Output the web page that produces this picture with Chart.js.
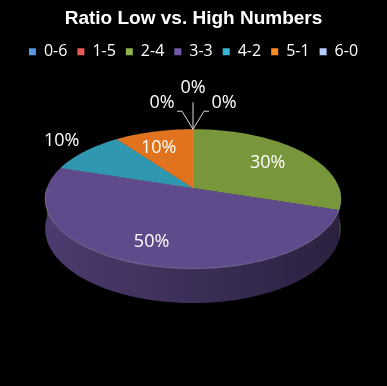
<!DOCTYPE html>
<html>
<head>
<meta charset="utf-8">
<script src="https://cdn.jsdelivr.net/npm/chart.js@4.4.0/dist/chart.umd.min.js"></script>
<style>
  html, body { margin: 0; padding: 0; background: #000; }
  #wrap { width: 387px; height: 386px; }
</style>
</head>
<body>
<div id="wrap"><canvas id="pie" width="387" height="386"></canvas></div>
<script>
// data
const categories = ['0-6', '1-5', '2-4', '3-3', '4-2', '5-1', '6-0'];
const shares = [0, 0, 30, 50, 10, 10, 0];
const sliceColors = ['#4a7ebb', '#be4b48', '#78973a', '#5f4a8b', '#2f98b0', '#e2731e', '#98acd6'];
const chartTitle = 'Ratio Low vs. High Numbers';

// tilted view of the pie (perspective)
const view = { cx: 193, cy: 188, rx: 146, ry: 68, k: 0.157, depth: 29 };
const outsideLabels = ['4-2'];

function proj(a, f, z) {
  const u = Math.cos(a) * f, v = Math.sin(a) * f;
  const d = 1 - view.k * v;
  return [view.cx + view.rx * u / d, view.cy + (view.ry * v + view.depth * z) / d];
}

function shade(hex, m) {
  const n = parseInt(hex.slice(1), 16);
  const r = Math.min(255, Math.round(((n >> 16) & 255) * m));
  const g = Math.min(255, Math.round(((n >> 8) & 255) * m));
  const b = Math.min(255, Math.round((n & 255) * m));
  return 'rgb(' + r + ',' + g + ',' + b + ')';
}

function arcPoints(ctx, a1, a2, f, z, first) {
  const steps = Math.max(2, Math.ceil(Math.abs(a2 - a1) / 0.02));
  for (let i = 0; i <= steps; i++) {
    const p = proj(a1 + (a2 - a1) * i / steps, f, z);
    if (first && i === 0) ctx.moveTo(p[0], p[1]); else ctx.lineTo(p[0], p[1]);
  }
}

const pie3d = {
  id: 'pie3d',
  beforeDatasetsDraw(chart) {
    const ctx = chart.ctx;
    const arcs = chart.getDatasetMeta(0).data;
    ctx.save();
    // outer walls, front half only
    arcs.forEach((arc) => {
      const a1 = Math.max(arc.startAngle, 0);
      const a2 = Math.min(arc.endAngle, Math.PI);
      if (a2 <= a1) return;
      const col = arc.options.backgroundColor;
      const grad = ctx.createLinearGradient(view.cx - view.rx, 0, view.cx + view.rx, 0);
      grad.addColorStop(0, shade(col, 0.8));
      grad.addColorStop(1, shade(col, 0.45));
      ctx.beginPath();
      arcPoints(ctx, a1, a2, 1, 0, true);
      arcPoints(ctx, a2, a1, 1, 1, false);
      ctx.closePath();
      ctx.fillStyle = grad;
      ctx.fill();
    });
    // top faces
    arcs.forEach((arc) => {
      if (arc.endAngle - arc.startAngle <= 0) return;
      const c = proj(0, 0, 0);
      ctx.beginPath();
      ctx.moveTo(c[0], c[1]);
      arcPoints(ctx, arc.startAngle, arc.endAngle, 1, 0, false);
      ctx.closePath();
      ctx.fillStyle = arc.options.backgroundColor;
      ctx.fill();
      ctx.strokeStyle = 'rgba(255,255,255,0.12)';
      ctx.lineWidth = 0.6;
      ctx.stroke();
    });
    // soft rim highlight on the front edge
    ctx.beginPath();
    arcPoints(ctx, 0, Math.PI, 1, 0, true);
    ctx.strokeStyle = 'rgba(255,255,255,0.18)';
    ctx.lineWidth = 1;
    ctx.stroke();
    ctx.restore();
    return false;
  },
  afterDraw(chart) {
    const ctx = chart.ctx;
    const arcs = chart.getDatasetMeta(0).data;
    const total = shares.reduce((s, v) => s + v, 0);
    ctx.save();
    ctx.fillStyle = '#fff';
    ctx.font = '18px "Open Sans"';
    ctx.textAlign = 'center';
    ctx.textBaseline = 'middle';
    const zeros = [];
    arcs.forEach((arc, i) => {
      const txt = Math.round(shares[i] / total * 100) + '%';
      if (shares[i] === 0) { zeros.push({ arc, txt }); return; }
      const mid = (arc.startAngle + arc.endAngle) / 2;
      if (outsideLabels.includes(categories[i])) {
        const p = proj(mid, 1.25, 0);
        ctx.fillText(txt, p[0] + 1, p[1] - 2);
      } else {
        const p = proj(mid, 0.72, 0);
        ctx.fillText(txt, p[0] - 5, p[1] + 2);
      }
    });
    // empty slices: spread labels with leader lines
    ctx.strokeStyle = '#d9d9d9';
    ctx.lineWidth = 1;
    zeros.forEach((z, j) => {
      const side = j - (zeros.length - 1) / 2;
      const p = proj(z.arc.startAngle, 1, 0);
      ctx.beginPath();
      ctx.moveTo(p[0], p[1]);
      if (side === 0) {
        ctx.lineTo(p[0], p[1] - 27);
        ctx.stroke();
        ctx.fillText(z.txt, p[0], p[1] - 41);
      } else {
        ctx.lineTo(p[0] + side * 11, p[1] - 18);
        ctx.lineTo(p[0] + side * 16, p[1] - 18);
        ctx.stroke();
        ctx.fillText(z.txt, p[0] + side * 31, p[1] - 26);
      }
    });
    ctx.restore();
  }
};

new Chart(document.getElementById('pie').getContext('2d'), {
  type: 'pie',
  data: {
    labels: categories,
    datasets: [{
      data: shares,
      backgroundColor: sliceColors,
      borderWidth: 0
    }]
  },
  options: {
    responsive: false,
    animation: false,
    events: [],
    plugins: {
      title: {
        display: true,
        text: chartTitle,
        color: '#fff',
        font: { family: 'Liberation Sans', size: 19, weight: 'bold' },
        padding: { top: 7, bottom: 4 }
      },
      legend: {
        position: 'top',
        labels: {
          color: '#fff',
          boxWidth: 7,
          boxHeight: 7,
          padding: 10,
          font: { family: 'Open Sans', size: 16 },
          generateLabels(chart) {
            return categories.map((c, i) => ({
              text: c,
              fillStyle: shade(sliceColors[i], 1.2),
              strokeStyle: shade(sliceColors[i], 1.2),
              lineWidth: 0,
              fontColor: '#fff',
              hidden: false,
              index: i
            }));
          }
        }
      },
      tooltip: { enabled: false }
    }
  },
  plugins: [pie3d]
});
</script>
</body>
</html>
